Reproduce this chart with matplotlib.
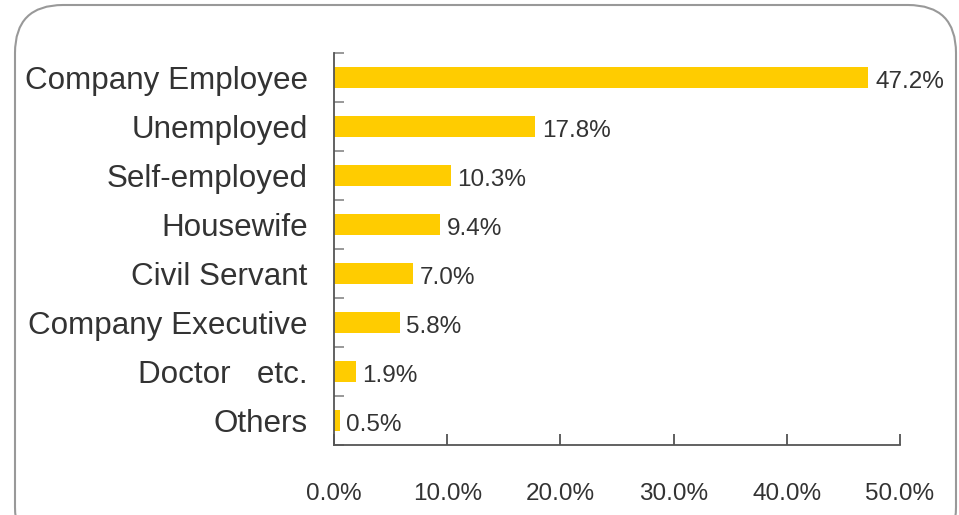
import matplotlib
matplotlib.use("Agg")
import matplotlib.pyplot as plt
from matplotlib.patches import FancyBboxPatch
from matplotlib.ticker import FixedLocator

categories = ["Company Employee", "Unemployed", "Self-employed", "Housewife",
              "Civil Servant", "Company Executive", "Doctor   etc.", "Others"]
values = [47.2, 17.8, 10.3, 9.4, 7.0, 5.8, 1.9, 0.5]
xticks = [0, 10, 20, 30, 40, 50]

TXT = "#333333"
NARROW = ["Liberation Sans Narrow", "Liberation Sans", "DejaVu Sans"]

fig = plt.figure(figsize=(9.59, 5.15), dpi=100)
W, H = 959, 515
ax = fig.add_axes([334 / W, 1 - 445 / H, (900 - 334) / W, (445 - 53) / H])

n = len(categories)
ypos = list(range(n))
ax.barh(ypos, values, height=0.43, color="#FFCC00", zorder=2)
ax.set_ylim(n - 0.5, -0.5)
ax.set_xlim(0, 50)

for y, v in zip(ypos, values):
    ax.text(v + 0.6, y + 0.1, f"{v:.1f}%", ha="left", va="center",
            fontsize=17.5, color=TXT, family=NARROW)

ax.set_yticks(ypos)
ax.set_yticklabels(categories, fontsize=22.6, color=TXT, family=["Liberation Sans"])
ax.tick_params(axis="y", which="major", length=0, pad=19)
ax.yaxis.set_minor_locator(FixedLocator([i - 0.5 for i in range(n + 1)]))
ax.tick_params(axis="y", which="minor", direction="in", length=7, width=1.2, color="#888888")

ax.set_xticks(xticks)
ax.set_xticklabels([f"{t:.1f}%" for t in xticks], fontsize=17.5, color=TXT, family=NARROW)
ax.tick_params(axis="x", direction="in", length=8, width=1.2, color="#444444", pad=27)

for s in ["top", "right"]:
    ax.spines[s].set_visible(False)
for s in ["left", "bottom"]:
    ax.spines[s].set_color("#555555")
    ax.spines[s].set_linewidth(1.3)

box = FancyBboxPatch((15 / W, -40 / H), (956 - 15) / W, (510 + 40) / H,
                     boxstyle="round,pad=0,rounding_size=0.05",
                     transform=fig.transFigure, facecolor="none",
                     edgecolor="#999999", linewidth=1.5, mutation_aspect=W / H)
fig.patches.append(box)

fig.savefig("out.png", dpi=100)
